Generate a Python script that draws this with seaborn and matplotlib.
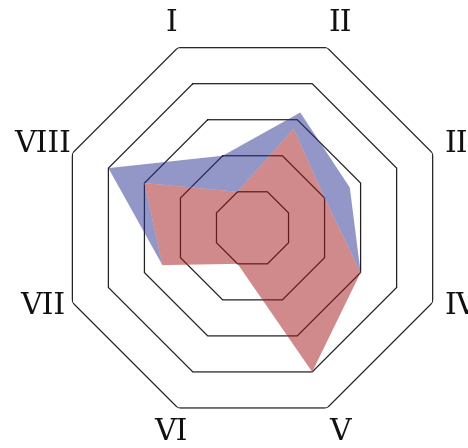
import numpy as np
import matplotlib
matplotlib.use("Agg")
import matplotlib.pyplot as plt
from matplotlib.transforms import offset_copy
import seaborn as sns

# Axis labels and the two series, in label order (clockwise from upper left)
labels = ["I", "II", "III", "IV", "V", "VI", "VII", "VIII"]
series_blue = [2.0, 3.2, 2.7, 3.0, 1.6, 0.8, 2.5, 4.0]
series_red = [1.0, 2.75, 2.0, 3.0, 4.0, 1.0, 2.5, 3.0]
ring_levels = [1, 2, 3, 4, 5]

sns.set_theme(style="white")
plt.rcParams["font.family"] = ["DejaVu Serif", "DejaVu Sans"]

blue = (41 / 255, 49 / 255, 145 / 255)
red = (163 / 255, 23 / 255, 27 / 255)

fig = plt.figure(figsize=(4.68, 4.48), dpi=100)
fig.patch.set_facecolor("white")
ax = fig.add_axes([0.1229, 0.05625, 0.8333, 0.8705], projection="polar")
ax.set_theta_zero_location("N")
ax.set_theta_direction(-1)
ax.set_ylim(0, 5)
ax.grid(False)
ax.spines["polar"].set_visible(False)
ax.set_xticks([])
ax.set_yticks([])
ax.set_facecolor("white")

n = len(labels)
angles = np.deg2rad(-22.5 + 45.0 * np.arange(n))
closed = np.append(angles, angles[0])


def draw_rings(zorder, clip=None):
    for lvl in ring_levels:
        (ln,) = ax.plot(closed, [lvl] * (n + 1), color="#222222", lw=0.9,
                        zorder=zorder, solid_joinstyle="miter")
        if clip is not None:
            ln.set_clip_path(clip)


# octagonal grid
draw_rings(1)

# blue series
ax.fill(angles, series_blue, color=blue, alpha=0.5, lw=0, zorder=2)

# the red series sits on top of the blue one without mixing with it
(knock,) = ax.fill(angles, series_red, color="white", lw=0, zorder=3)
draw_rings(4, clip=knock)
ax.fill(angles, series_red, color=red, alpha=0.5, lw=0, zorder=5)

# axis labels around the outer ring
for ang, lab in zip(angles, labels):
    if abs(np.cos(ang)) > 0.7:          # top and bottom
        r_lab, ha, dx, dy = 5.67, "center", 3, 0.5
    elif np.sin(ang) < 0:               # left side
        r_lab, ha, dx, dy = 5.44, "center", -14, 3
    else:                               # right side
        r_lab, ha, dx, dy = 5.44, "left", -4, 3
    trans = offset_copy(ax.transData, fig=fig, x=dx, y=dy, units="dots")
    ax.text(ang, r_lab, lab, ha=ha, va="center", fontsize=21.5,
            color="#111111", clip_on=False, transform=trans)

fig.savefig("out.png", dpi=100, facecolor="white")
